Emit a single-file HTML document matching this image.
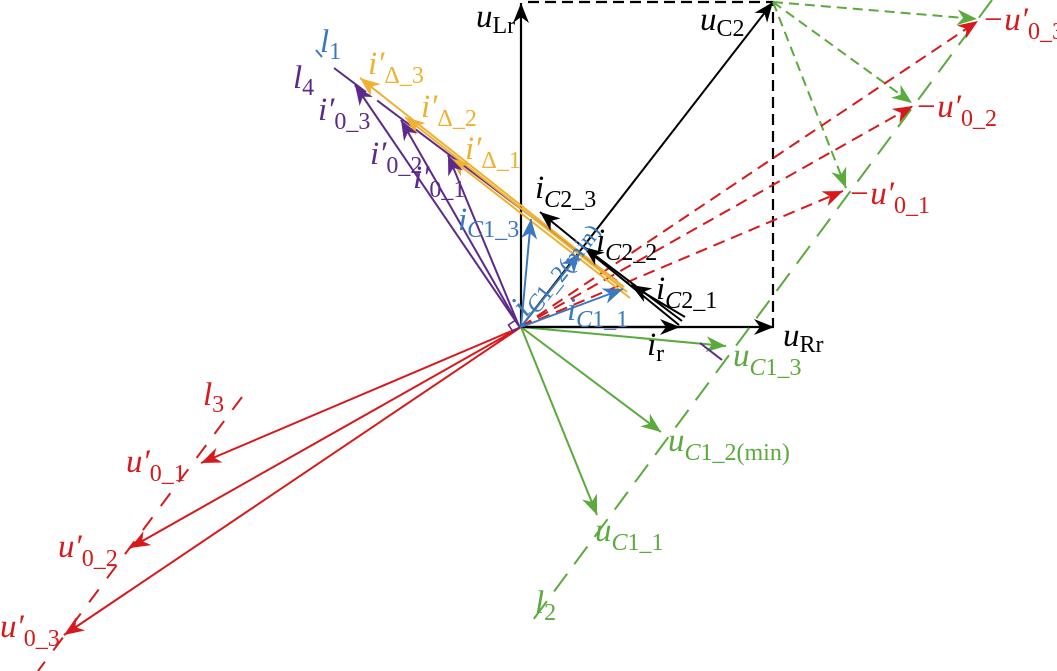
<!DOCTYPE html>
<html><head><meta charset="utf-8"><style>
html,body{margin:0;padding:0;background:#fff;}
svg{display:block;font-family:"Liberation Serif",serif;}
.t{font-size:33px;font-style:italic;}
.s{font-size:24px;font-style:normal;}
.si{font-size:24px;font-style:italic;}
</style></head><body>
<svg width="1057" height="671" viewBox="0 0 1057 671" xmlns="http://www.w3.org/2000/svg">
<defs>
<marker id="mk2" viewBox="0 0 10 8" refX="10" refY="4" markerWidth="22" markerHeight="16" markerUnits="userSpaceOnUse" orient="auto"><path d="M0,0 L10,4 L0,8 L3,4z" fill="#000"/></marker>
<marker id="mr" viewBox="0 0 10 8" refX="10" refY="4" markerWidth="22" markerHeight="16" markerUnits="userSpaceOnUse" orient="auto"><path d="M0,0 L10,4 L0,8 L3,4z" fill="#d7191c"/></marker>
<marker id="mg" viewBox="0 0 10 8" refX="10" refY="4" markerWidth="22" markerHeight="16" markerUnits="userSpaceOnUse" orient="auto"><path d="M0,0 L10,4 L0,8 L3,4z" fill="#5aaa3c"/></marker>
<marker id="mb" viewBox="0 0 10 8" refX="10" refY="4" markerWidth="22" markerHeight="16" markerUnits="userSpaceOnUse" orient="auto"><path d="M0,0 L10,4 L0,8 L3,4z" fill="#3a78c0"/></marker>
<marker id="mp" viewBox="0 0 10 8" refX="10" refY="4" markerWidth="22" markerHeight="16" markerUnits="userSpaceOnUse" orient="auto"><path d="M0,0 L10,4 L0,8 L3,4z" fill="#5b2a8c"/></marker>
<marker id="my" viewBox="0 0 10 8" refX="10" refY="4" markerWidth="22" markerHeight="16" markerUnits="userSpaceOnUse" orient="auto"><path d="M0,0 L10,4 L0,8 L3,4z" fill="#f0b030"/></marker>
</defs>

<path d="M528,2 L773,2 L773,327" fill="none" stroke="#000" stroke-width="2.2" stroke-dasharray="11,6"/>
<line x1="521" y1="327" x2="521" y2="3" stroke="#000" stroke-width="2.2" marker-end="url(#mk2)"/>
<line x1="521" y1="327" x2="774" y2="327" stroke="#000" stroke-width="2.2" marker-end="url(#mk2)"/>
<line x1="521" y1="327" x2="773" y2="2" stroke="#000" stroke-width="2" marker-end="url(#mk2)"/>

<line x1="992" y1="0" x2="530" y2="624" stroke="#5aaa3c" stroke-width="2" stroke-dasharray="22,12"/>
<line x1="242" y1="397" x2="38" y2="671" stroke="#d7191c" stroke-width="2" stroke-dasharray="16,14"/>

<g stroke="#5aaa3c" stroke-width="2" stroke-dasharray="10,6" fill="none">
<line x1="773" y1="2" x2="977" y2="19" marker-end="url(#mg)"/>
<line x1="773" y1="2" x2="912" y2="103" marker-end="url(#mg)"/>
<line x1="773" y1="2" x2="846" y2="188" marker-end="url(#mg)"/>
</g>
<g stroke="#d7191c" stroke-width="2" stroke-dasharray="12,7" fill="none">
<line x1="521" y1="327" x2="978" y2="21" marker-end="url(#mr)"/>
<line x1="521" y1="327" x2="913" y2="106" marker-end="url(#mr)"/>
<line x1="521" y1="327" x2="843" y2="191" marker-end="url(#mr)"/>
</g>
<g stroke="#d7191c" stroke-width="2" fill="none">
<line x1="521" y1="327" x2="201" y2="463" marker-end="url(#mr)"/>
<line x1="521" y1="327" x2="130" y2="548" marker-end="url(#mr)"/>
<line x1="521" y1="327" x2="64" y2="635" marker-end="url(#mr)"/>
</g>
<g stroke="#5aaa3c" stroke-width="2" fill="none">
<line x1="521" y1="327" x2="726" y2="346" marker-end="url(#mg)"/>
<line x1="521" y1="327" x2="661" y2="432" marker-end="url(#mg)"/>
<line x1="521" y1="327" x2="597" y2="515" marker-end="url(#mg)"/>
</g>

<line x1="334" y1="68" x2="722" y2="360" stroke="#5b2a8c" stroke-width="2" stroke-dasharray="40,14,300,200"/>
<line x1="700" y1="343" x2="722" y2="360" stroke="#5b2a8c" stroke-width="2"/>
<line x1="316" y1="50" x2="322" y2="57" stroke="#3a78c0" stroke-width="2"/>

<g stroke="#f0b030" stroke-width="2" fill="none">
<line x1="624" y1="287" x2="360" y2="78" marker-end="url(#my)"/>
<line x1="627" y1="292" x2="405" y2="117" marker-end="url(#my)"/>
<line x1="630" y1="298" x2="450" y2="158" marker-end="url(#my)"/>
</g>
<g stroke="#5b2a8c" stroke-width="2" fill="none">
<line x1="519" y1="326" x2="355" y2="85" marker-end="url(#mp)"/>
<line x1="519" y1="326" x2="401" y2="120" marker-end="url(#mp)"/>
<line x1="519" y1="326" x2="448" y2="155" marker-end="url(#mp)"/>
</g>
<g stroke="#000" stroke-width="2" fill="none">
<line x1="679" y1="325" x2="540" y2="212" marker-end="url(#mk2)"/>
<line x1="682" y1="321" x2="584" y2="247" marker-end="url(#mk2)"/>
<line x1="685" y1="317" x2="631" y2="285" marker-end="url(#mk2)"/>
</g>
<line x1="521" y1="327" x2="680" y2="327" stroke="#000" stroke-width="2.2" marker-end="url(#mk2)"/>
<g stroke="#3a78c0" stroke-width="2" fill="none">
<line x1="521" y1="327" x2="531" y2="219" marker-end="url(#mb)"/>
<line x1="521" y1="327" x2="580" y2="253" marker-end="url(#mb)"/>
<line x1="521" y1="327" x2="623" y2="289" marker-end="url(#mb)"/>
</g>
<rect x="510" y="322" width="8" height="8" fill="none" stroke="#5b2a8c" stroke-width="1.5" transform="rotate(-34 514 326)"/>

<text class="t" x="476" y="27">u<tspan class="s" dy="6">Lr</tspan></text>
<text class="t" x="700" y="30">u<tspan class="s" dy="6">C2</tspan></text>
<text class="t" x="783" y="346">u<tspan class="s" dy="6">Rr</tspan></text>
<text class="t" x="647" y="355">i<tspan class="s" dy="6">r</tspan></text>
<g fill="#d7191c">
<text class="t" x="982" y="30">−u′<tspan class="s" dy="9">0_3</tspan></text>
<text class="t" x="915" y="117">−u′<tspan class="s" dy="9">0_2</tspan></text>
<text class="t" x="848" y="204">−u′<tspan class="s" dy="9">0_1</tspan></text>
<text class="t" x="126" y="472">u′<tspan class="s" dy="9">0_1</tspan></text>
<text class="t" x="58" y="557">u′<tspan class="s" dy="9">0_2</tspan></text>
<text class="t" x="0" y="637">u′<tspan class="s" dy="9">0_3</tspan></text>
<text class="t" x="203" y="405">l<tspan class="s" dy="7">3</tspan></text>
</g>
<g fill="#5aaa3c">
<text class="t" x="733" y="366">u<tspan class="si" dy="9">C</tspan><tspan class="s">1_3</tspan></text>
<text class="t" x="668" y="451">u<tspan class="si" dy="9">C</tspan><tspan class="s">1_2(min)</tspan></text>
<text class="t" x="595" y="541">u<tspan class="si" dy="9">C</tspan><tspan class="s">1_1</tspan></text>
<text class="t" x="535" y="613">l<tspan class="s" dy="7">2</tspan></text>
</g>
<g fill="#3a78c0">
<text class="t" x="320" y="52">l<tspan class="s" dy="7">1</tspan></text>
<text class="t" x="458" y="230">i<tspan class="si" dy="7">C</tspan><tspan class="s">1_3</tspan></text>
<text class="t" x="567" y="320">i<tspan class="si" dy="7">C</tspan><tspan class="s">1_1</tspan></text>
<text class="t" transform="translate(526,318) rotate(-52)" x="0" y="0">i<tspan class="si" dy="7">C</tspan><tspan class="s">1_2(min)</tspan></text>
</g>
<g fill="#5b2a8c">
<text class="t" x="293" y="88">l<tspan class="s" dy="7">4</tspan></text>
<text class="t" x="318" y="120">i′<tspan class="s" dy="9">0_3</tspan></text>
<text class="t" x="370" y="164">i′<tspan class="s" dy="9">0_2</tspan></text>
<text class="t" x="413" y="188">i′<tspan class="s" dy="9">0_1</tspan></text>
</g>
<g fill="#f0b030">
<text class="t" x="368" y="74">i′<tspan class="s" dy="9">Δ_3</tspan></text>
<text class="t" x="421" y="117">i′<tspan class="s" dy="9">Δ_2</tspan></text>
<text class="t" x="465" y="159">i′<tspan class="s" dy="9">Δ_1</tspan></text>
</g>
<text class="t" x="535" y="198">i<tspan class="si" dy="9">C</tspan><tspan class="s">2_3</tspan></text>
<text class="t" x="596" y="251">i<tspan class="si" dy="9">C</tspan><tspan class="s">2_2</tspan></text>
<text class="t" x="656" y="299">i<tspan class="si" dy="9">C</tspan><tspan class="s">2_1</tspan></text>
</svg>
</body></html>
